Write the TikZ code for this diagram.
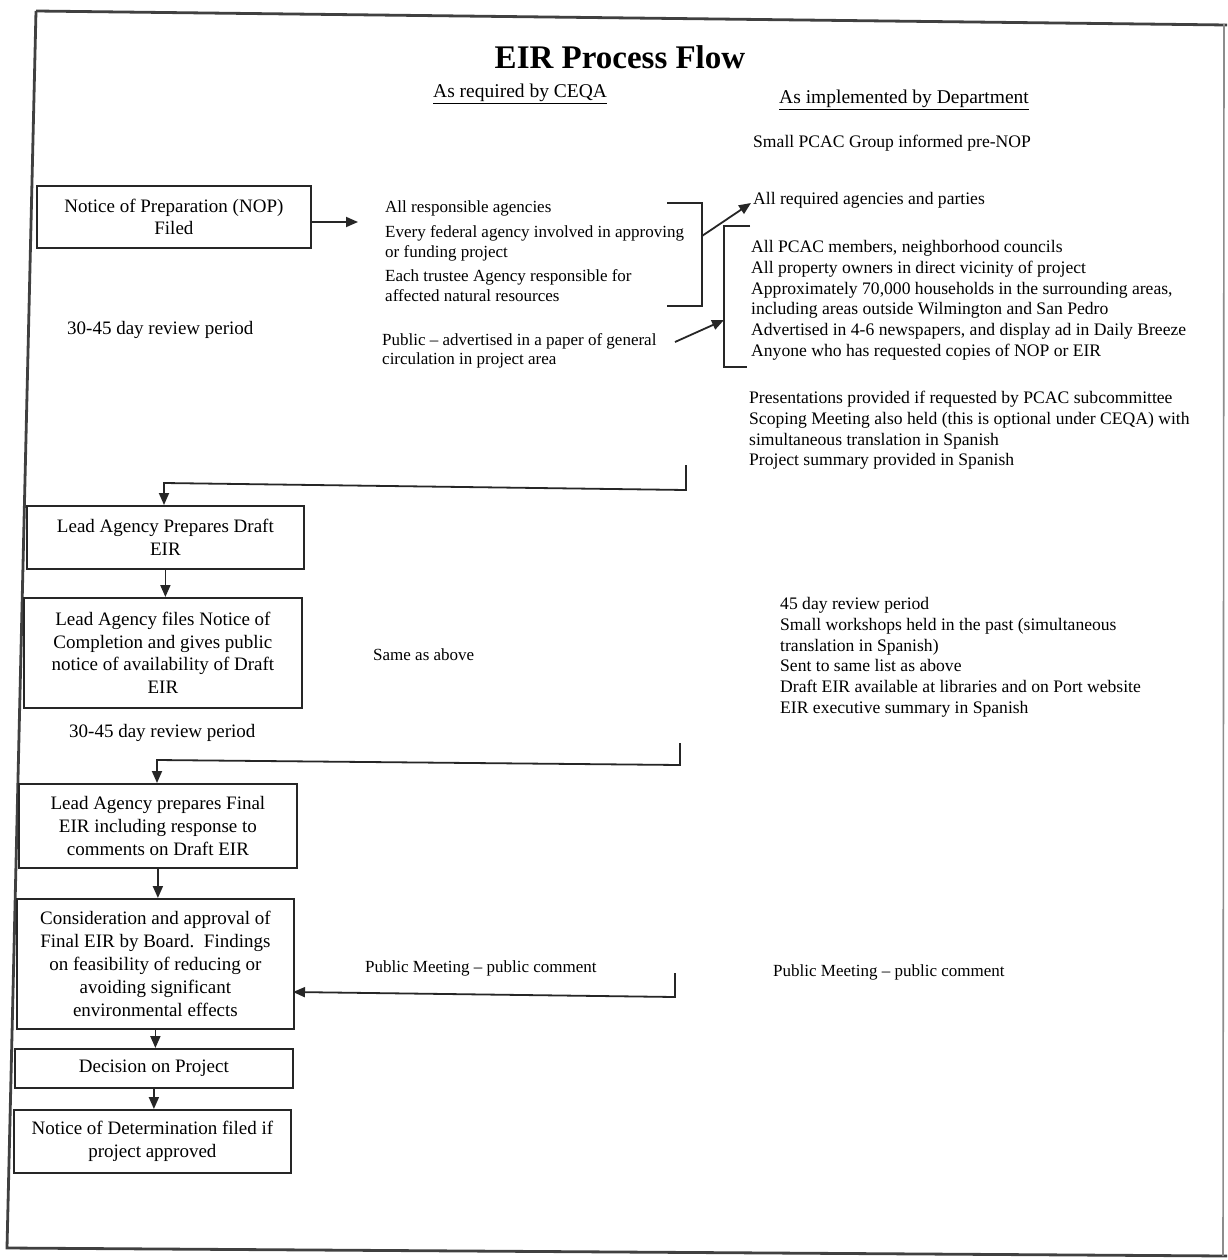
\documentclass[tikz,border=0pt]{standalone}
\usepackage{fontspec}
\setmainfont{Liberation Serif}
\usetikzlibrary{arrows.meta}
\newcommand\boxfont{\fontsize{19}{22.8}\selectfont}
\newcommand\midfont{\fontsize{17}{19.6}\selectfont}
\newcommand\rightfont{\fontsize{17.6}{20.8}\selectfont}
\newcommand\headfont{\fontsize{19.5}{23}\selectfont}
\begin{document}
\begin{tikzpicture}[x=1pt,y=-1pt,
  flowbox/.style={draw=black!85,line width=1.8pt,anchor=north west,inner sep=0pt,
    align=center,font=\boxfont},
  flowarrow/.style={draw=black!85,line width=1.8pt,-{Triangle[length=12pt,width=10pt]}},
  flowline/.style={draw=black!85,line width=1.8pt},
  frameline/.style={draw=black!75,line width=2.8pt},
  listtext/.style={anchor=north west,inner sep=0pt,align=left},
  plain/.style={anchor=west,inner sep=0pt}]
\useasboundingbox (0,0) rectangle (1227,1260);
\fill[white] (0,0) rectangle (1227,1260);

% outer frame of the page
\coordinate (ftl) at (36,11);
\coordinate (ftr) at (1227,25);
\coordinate (fbr) at (1227,1256);
\coordinate (fbl) at (7,1248);
\draw[frameline] (ftl) -- (ftr);
\draw[frameline] (ftl) -- (fbl) -- (fbr);
\draw[frameline,draw=black!45,line width=1.6pt] (1224,24) -- (1223,1256);

% headings
\node[anchor=base,inner sep=0pt,font=\bfseries\fontsize{33}{36}\selectfont] (title) at (620,69) {EIR Process Flow};
\node[plain,font=\headfont] (hceqa) at (433,94) {\underline{As required by CEQA}};
\node[plain,font=\headfont] (hdept) at (779,100) {\underline{As implemented by Department}};
\node[plain,font=\rightfont] (prenop) at (753,143) {Small PCAC Group informed pre-NOP};

% left column: process boxes
\node[flowbox,minimum width=274pt,minimum height=62pt] (nop) at (36,185) {Notice of Preparation (NOP)\\Filed};
\node[plain,font=\boxfont] (rev1) at (67,330) {30-45 day review period};
\node[flowbox,minimum width=277pt,minimum height=63pt] (draft) at (26,505) {Lead Agency Prepares Draft\\EIR};
\node[flowbox,minimum width=278pt,minimum height=110pt] (noc) at (23,597) {Lead Agency files Notice of\\Completion and gives public\\notice of availability of Draft\\EIR};
\node[plain,font=\boxfont] (rev2) at (69,733) {30-45 day review period};
\node[flowbox,minimum width=278pt,minimum height=84pt] (final) at (18,783) {Lead Agency prepares Final\\EIR including response to\\comments on Draft EIR};
\node[flowbox,minimum width=277pt,minimum height=130pt] (board) at (16,898) {Consideration and approval of\\Final EIR by Board.\ \ Findings\\on feasibility of reducing or\\avoiding significant\\environmental effects};
\node[flowbox,minimum width=278pt,minimum height=39pt] (decide) at (14,1048) {Decision on Project};
\node[flowbox,minimum width=277pt,minimum height=63pt] (nod) at (13,1109) {Notice of Determination filed if\\project approved};

% middle column: as required by CEQA
\node[listtext,font=\midfont] (agencies) at (385,201) {All responsible agencies\\[5pt]
Every federal agency involved in approving\\or funding project\\[5pt]
Each trustee Agency responsible for\\affected natural resources};
\node[listtext,font=\midfont] (public) at (382,333) {Public – advertised in a paper of general\\circulation in project area};
\node[plain,font=\fontsize{17}{20}\selectfont] (same) at (373,655) {Same as above};
\node[plain,font=\fontsize{17}{20}\selectfont] (meet1) at (365,968) {Public Meeting – public comment};

% right column: as implemented by Department
\node[plain,font=\rightfont] (required) at (753,200) {All required agencies and parties};
\node[listtext,font=\rightfont] (members) at (751,240) {All PCAC members, neighborhood councils\\
All property owners in direct vicinity of project\\
Approximately 70,000 households in the surrounding areas,\\
including areas outside Wilmington and San Pedro\\
Advertised in 4-6 newspapers, and display ad in Daily Breeze\\
Anyone who has requested copies of NOP or EIR};
\node[listtext,font=\rightfont] (scoping) at (749,391) {Presentations provided if requested by PCAC subcommittee\\
Scoping Meeting also held (this is optional under CEQA) with\\
simultaneous translation in Spanish\\
Project summary provided in Spanish};
\node[listtext,font=\rightfont] (workshops) at (780,597) {45 day review period\\
Small workshops held in the past (simultaneous\\
translation in Spanish)\\
Sent to same list as above\\
Draft EIR available at libraries and on Port website\\
EIR executive summary in Spanish};
\node[plain,font=\fontsize{17}{20}\selectfont] (meet2) at (773,972) {Public Meeting – public comment};

% NOP notice goes out
\coordinate (nopto) at (358,222);
\draw[flowarrow] (nop.east |- nopto) -- (nopto);

% bracket round the agency list, pointing on to the Department list
\coordinate (lbt) at (667,203);
\coordinate (lbb) at (667,306);
\coordinate (lbm) at (702,236);
\draw[flowline] (lbt) -- (702,203) -- (702,306) -- (lbb);
\draw[flowarrow] (lbm) -- (751,203);

% public notice arrow and bracket round the Department list
\coordinate (rbt) at (750,226);
\coordinate (rbb) at (747,367);
\coordinate (rbm) at (724,320);
\draw[flowline] (rbt) -- (724,226) -- (724,367) -- (rbb);
\draw[flowarrow] (675,342) -- (rbm);

% return lines into the left column
\coordinate (r1a) at (686,465);
\coordinate (r1b) at (686,490);
\coordinate (r1c) at (164,483);
\draw[flowarrow] (r1a) -- (r1b) -- (r1c) -- (r1c |- draft.north);
\draw[flowarrow] (draft.south) -- (draft.south |- noc.north);

\coordinate (r2a) at (680,743);
\coordinate (r2b) at (680,765);
\coordinate (r2c) at (157,760);
\draw[flowarrow] (r2a) -- (r2b) -- (r2c) -- (r2c |- final.north);
\draw[flowarrow] (final.south) -- (final.south |- board.north);

\coordinate (r3a) at (675,973);
\coordinate (r3b) at (675,997);
\coordinate (r3c) at (293,992);
\draw[flowarrow] (r3a) -- (r3b) -- (r3c);

\draw[flowarrow] (board.south) -- (board.south |- decide.north);
\draw[flowarrow] (decide.south) -- (decide.south |- nod.north);
\end{tikzpicture}
\end{document}
